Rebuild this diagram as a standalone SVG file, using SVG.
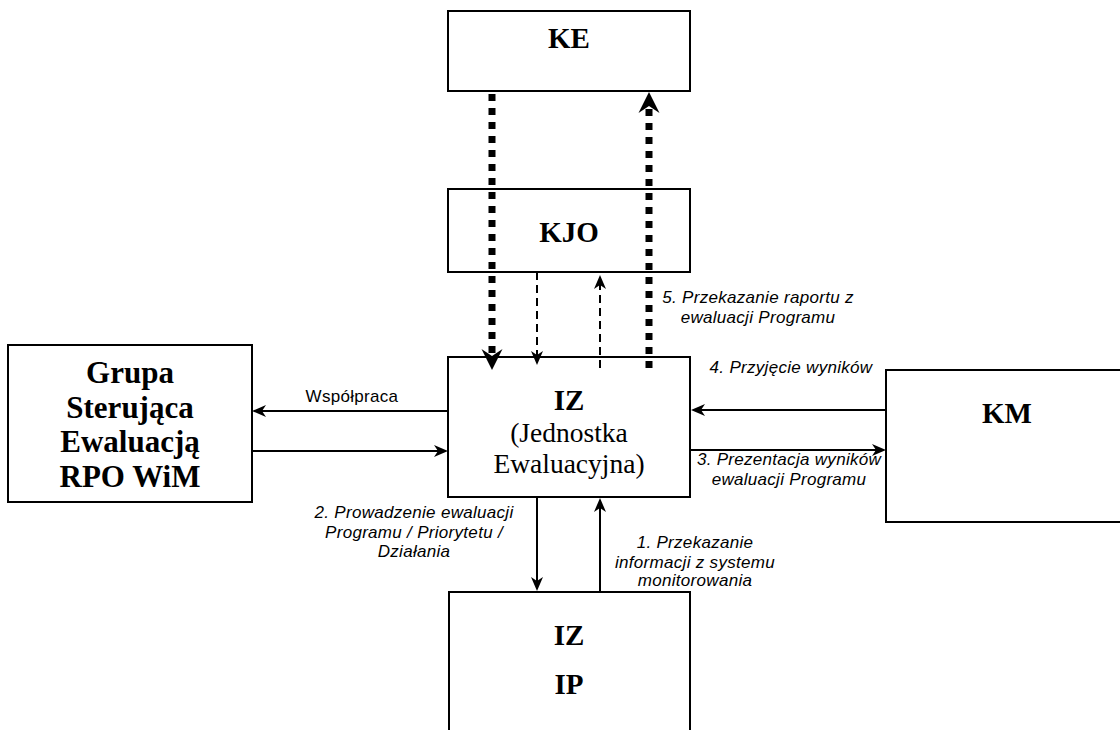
<svg xmlns="http://www.w3.org/2000/svg" width="1120" height="730" viewBox="0 0 1120 730">
  <style>
    .box { fill: #ffffff; stroke: #000000; stroke-width: 2; }
    .bold { font-family: "Liberation Serif", "Times New Roman", serif; font-weight: bold; font-size: 29px; fill: #000; text-anchor: middle; }
    .serif { font-family: "Liberation Serif", "Times New Roman", serif; font-size: 27.5px; fill: #000; text-anchor: middle; }
    .grp { font-family: "Liberation Serif", "Times New Roman", serif; font-weight: bold; font-size: 31px; fill: #000; text-anchor: middle; }
    .lbl { font-family: "Liberation Sans", Arial, sans-serif; font-style: italic; font-size: 17px; letter-spacing: 0.3px; fill: #000; text-anchor: middle; }
    .lbln { font-family: "Liberation Sans", Arial, sans-serif; font-size: 17px; letter-spacing: 0.3px; fill: #000; text-anchor: middle; }
    .thin { fill: none; stroke: #000; stroke-width: 2; }
    .dash { fill: none; stroke: #000; stroke-width: 2; stroke-dasharray: 8 5; }
    .thick { fill: none; stroke: #000; stroke-width: 7; stroke-dasharray: 7 7; }
  </style>
  <defs>
    <marker id="arrow" markerUnits="userSpaceOnUse" viewBox="-16 -8 17 16" markerWidth="17" markerHeight="16" refX="-10" refY="0" orient="auto">
      <path d="M0,0 L-14,-6 L-10,0 L-14,6 Z" fill="#000"/>
    </marker>
    <marker id="bigarrow" markerUnits="userSpaceOnUse" viewBox="-23 -12 24 24" markerWidth="24" markerHeight="24" refX="-14" refY="0" orient="auto">
      <path d="M0,0 L-21,-10.5 L-14,0 L-21,10.5 Z" fill="#000"/>
    </marker>
  </defs>

  <g id="node-ke">
    <rect class="box" x="448" y="11" width="242" height="80"/>
    <text class="bold" x="569" y="48">KE</text>
  </g>
  <g id="node-kjo">
    <rect class="box" x="448" y="189" width="242" height="83"/>
    <text class="bold" x="569" y="242">KJO</text>
  </g>
  <g id="node-grupa">
    <rect class="box" x="8" y="345" width="244" height="157"/>
    <text class="grp" x="130" y="383">Grupa</text>
    <text class="grp" x="130" y="417.5">Sterująca</text>
    <text class="grp" x="130" y="452">Ewaluacją</text>
    <text class="grp" x="130" y="486.5">RPO WiM</text>
  </g>
  <g id="node-iz">
    <rect class="box" x="448" y="357" width="242" height="140"/>
    <text class="bold" x="569" y="410">IZ</text>
    <text class="serif" x="569" y="442">(Jednostka</text>
    <text class="serif" x="569" y="473">Ewaluacyjna)</text>
  </g>
  <g id="node-km">
    <rect class="box" x="886" y="370" width="242" height="152"/>
    <text class="bold" x="1007" y="423">KM</text>
  </g>
  <g id="node-iz-ip">
    <rect class="box" x="449" y="592" width="241" height="150"/>
    <text class="bold" x="569" y="645">IZ</text>
    <text class="bold" x="569" y="694">IP</text>
  </g>

  <g id="connectors">
    <!-- thick dotted KE <-> IZ -->
    <line class="thick" x1="492" y1="94" x2="492" y2="356" marker-end="url(#bigarrow)"/>
    <line class="thick" x1="649" y1="368" x2="649" y2="106" marker-end="url(#bigarrow)"/>
    <!-- thin dashed KJO <-> IZ -->
    <line class="dash" x1="537" y1="272" x2="537" y2="355" marker-end="url(#arrow)"/>
    <line class="dash" x1="600" y1="368" x2="600" y2="285" marker-end="url(#arrow)"/>
    <!-- Grupa <-> IZ -->
    <line class="thin" x1="448" y1="411" x2="262" y2="411" marker-end="url(#arrow)"/>
    <line class="thin" x1="252" y1="451" x2="438" y2="451" marker-end="url(#arrow)"/>
    <!-- KM <-> IZ -->
    <line class="thin" x1="886" y1="410" x2="701" y2="410" marker-end="url(#arrow)"/>
    <line class="thin" x1="690" y1="450" x2="876" y2="450" marker-end="url(#arrow)"/>
    <!-- IZ <-> IZ/IP -->
    <line class="thin" x1="537" y1="497" x2="537" y2="581" marker-end="url(#arrow)"/>
    <line class="thin" x1="600" y1="592" x2="600" y2="508" marker-end="url(#arrow)"/>
  </g>

  <g id="labels">
    <text class="lbln" x="352" y="402">Współpraca</text>
    <text class="lbl" x="758" y="303">5. Przekazanie raportu z</text>
    <text class="lbl" x="758" y="323">ewaluacji Programu</text>
    <text class="lbl" x="791" y="373">4. Przyjęcie wyników</text>
    <text class="lbl" x="789" y="465">3. Prezentacja wyników</text>
    <text class="lbl" x="789" y="485">ewaluacji Programu</text>
    <text class="lbl" x="414" y="518">2. Prowadzenie ewaluacji</text>
    <text class="lbl" x="414" y="538">Programu / Priorytetu /</text>
    <text class="lbl" x="414" y="557">Działania</text>
    <text class="lbl" x="695" y="548">1. Przekazanie</text>
    <text class="lbl" x="695" y="568">informacji z systemu</text>
    <text class="lbl" x="695" y="586">monitorowania</text>
  </g>
</svg>
